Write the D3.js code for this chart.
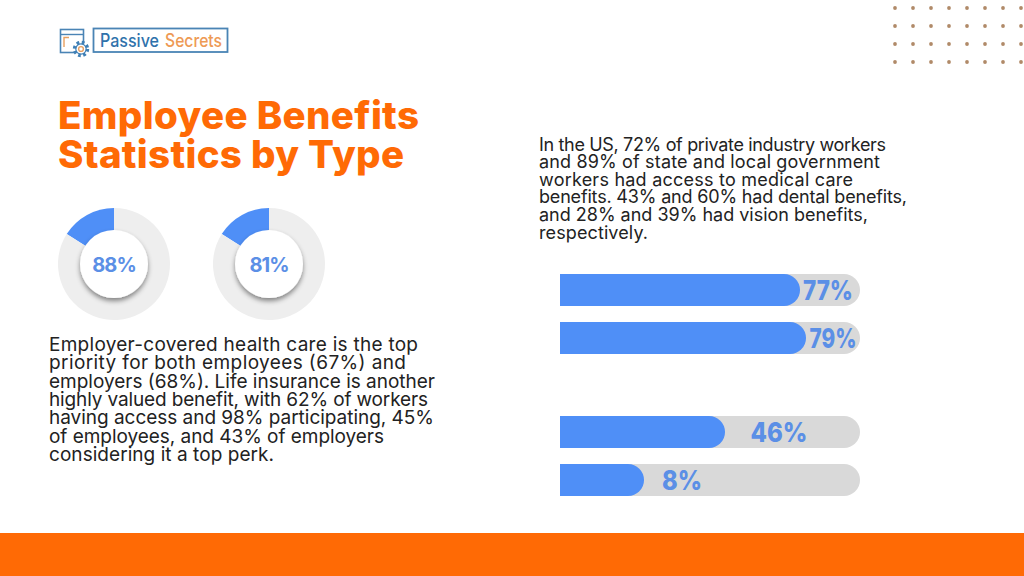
<!DOCTYPE html>
<html>
<head>
<meta charset="utf-8">
<script src="https://cdn.jsdelivr.net/npm/d3@7"></script>
<style>
    html, body { margin: 0; padding: 0; background: #fff; overflow: hidden; }
    text { font-family: "Inter", "Noto Sans", sans-serif; }
</style>
</head>
<body>
<div id="chart"></div>
<script>
// values
var donutLabels = ['88%', '81%'];
var donutWedge = [16, 16];      // the blue slice as drawn is not the printed number
var barLabels = ['77%', '79%', '46%', '8%'];
var barLengths = [80, 82, 55, 28];  // share of the track as drawn
var barGroups = [0, 0, 1, 1];
var barRows = [0, 1, 0, 1];
var barLabelCentres = [828, 833, 779, 682];
var barLabelWidths = [50, 47, 57, 40];

var titleLines = ['Employee Benefits', 'Statistics by Type'];
var titleEnds = [419, 404];
var leftLines = [
    'Employer-covered health care is the top',
    'priority for both employees (67%) and',
    'employers (68%). Life insurance is another',
    'highly valued benefit, with 62% of workers',
    'having access and 98% participating, 45%',
    'of employees, and 43% of employers',
    'considering it a top perk.'
];
var leftEnds = [418, 406, 435, 428, 434, 384, 274];
var rightLines = [
    'In the US, 72% of private industry workers',
    'and 89% of state and local government',
    'workers had access to medical care',
    'benefits. 43% and 60% had dental benefits,',
    'and 28% and 39% had vision benefits,',
    'respectively.'
];
var rightEnds = [886, 880, 853, 907, 868, 648];

var width = 1024, height = 576;
var orange = '#ff6a05', blue = '#4f8ff7', labelBlue = '#5b8fe6';

var svg = d3.select('#chart').append('svg')
    .attr('width', width)
    .attr('height', height)
    .style('display', 'block');

var shadow = svg.append('defs').append('filter')
    .attr('id', 'shadow')
    .attr('x', '-30%').attr('y', '-30%')
    .attr('width', '160%').attr('height', '160%');
shadow.append('feDropShadow')
    .attr('dx', 0).attr('dy', 3)
    .attr('stdDeviation', 2.5)
    .attr('flood-color', '#000')
    .attr('flood-opacity', 0.45);

// footer band
svg.append('rect')
    .attr('x', 0).attr('y', 533)
    .attr('width', width).attr('height', height - 533)
    .attr('fill', orange);

// dot grid, top right
var dotX = d3.range(8).map(function (i) { return 895 + i * 18; });
var dotY = d3.range(4).map(function (i) { return 8 + i * 18; });
dotY.forEach(function (y) {
    svg.append('g').selectAll('circle').data(dotX).join('circle')
        .attr('cx', function (x) { return x; })
        .attr('cy', y)
        .attr('r', 1.9)
        .attr('fill', '#b08a68');
});

drawLogo();

function fitLines(lines, ends, x, firstY, step, size, weight, colour) {
    svg.append('g').selectAll('text').data(lines).join('text')
        .attr('x', x)
        .attr('y', function (d, i) { return firstY + i * step; })
        .attr('font-size', size)
        .attr('font-weight', weight)
        .attr('fill', colour)
        .attr('textLength', function (d, i) { return ends[i] - x; })
        .attr('lengthAdjust', 'spacing')
        .text(function (d) { return d; });
}

fitLines(titleLines, titleEnds, 58, 129, 39, 38.5, 800, orange);
fitLines(leftLines, leftEnds, 49, 351, 18.35, 19, 400, '#222222');
fitLines(rightLines, rightEnds, 539, 150.5, 17.6, 18, 400, '#222222');

// donuts
var donutX = d3.scalePoint().domain(donutLabels).range([114, 269]);
var pie = d3.pie().sort(null).value(function (d) { return d; });
var arc = d3.arc().innerRadius(0).outerRadius(56);

donutLabels.forEach(function (label, i) {
    var g = svg.append('g')
        .attr('transform', 'translate(' + donutX(label) + ',264)');
    var slices = pie.startAngle(-donutWedge[i] / 100 * 2 * Math.PI)
        .endAngle(2 * Math.PI - donutWedge[i] / 100 * 2 * Math.PI)([donutWedge[i], 100 - donutWedge[i]]);
    g.selectAll('path').data(slices).join('path')
        .attr('d', arc)
        .attr('fill', function (d, j) { return j == 0 ? blue : '#eeeeee'; });
    g.append('circle')
        .attr('r', 34)
        .attr('fill', '#fff')
        .attr('filter', 'url(#shadow)');
    g.append('text')
        .attr('text-anchor', 'middle')
        .attr('y', 7.5)
        .attr('font-size', 20)
        .attr('font-weight', 700)
        .attr('letter-spacing', -0.9)
        .attr('fill', labelBlue)
        .text(label);
});

// bars
var x = d3.scaleLinear().domain([0, 100]).range([560, 860]);
var groupY = d3.scalePoint().domain([0, 1]).range([274, 416]);
var rowY = d3.scalePoint().domain([0, 1]).range([0, 48]);
var barH = 32;

function rightRounded(x0, x1, y, h) {
    var r = h / 2;
    var p = d3.path();
    p.moveTo(x0, y);
    p.lineTo(x1 - r, y);
    p.arc(x1 - r, y + r, r, -Math.PI / 2, Math.PI / 2);
    p.lineTo(x0, y + h);
    p.closePath();
    return p.toString();
}

var bars = svg.append('g').selectAll('g').data(barLabels).join('g');
function barTop(i) { return groupY(barGroups[i]) + rowY(barRows[i]); }

bars.append('path')
    .attr('d', function (d, i) { return rightRounded(x(0), x(100), barTop(i), barH); })
    .attr('fill', '#d9d9d9');
bars.append('path')
    .attr('d', function (d, i) { return rightRounded(x(0), x(barLengths[i]), barTop(i), barH); })
    .attr('fill', blue);
bars.append('text')
    .attr('x', function (d, i) { return barLabelCentres[i] - barLabelWidths[i] / 2; })
    .attr('y', function (d, i) { return barTop(i) + 26; })
    .attr('font-size', 27)
    .attr('font-weight', 800)
    .attr('fill', labelBlue)
    .attr('textLength', function (d, i) { return barLabelWidths[i]; })
    .attr('lengthAdjust', 'spacingAndGlyphs')
    .text(function (d) { return d; });

function drawLogo() {
    var logo = svg.append('g');
    var line = '#4a84b5';
    logo.append('rect')
        .attr('x', 60.5).attr('y', 29.5)
        .attr('width', 23).attr('height', 23)
        .attr('fill', 'none').attr('stroke', line).attr('stroke-width', 1.6);
    logo.append('line')
        .attr('x1', 60).attr('x2', 84).attr('y1', 34.5).attr('y2', 34.5)
        .attr('stroke', line).attr('stroke-width', 1.4);
    logo.append('path')
        .attr('d', 'M64 47V37.5H69')
        .attr('fill', 'none').attr('stroke', '#e8a060').attr('stroke-width', 1.4);
    logo.append('circle')
        .attr('cx', 81).attr('cy', 49).attr('r', 6.5)
        .attr('fill', '#fff')
        .attr('stroke', '#3f7fb5').attr('stroke-width', 3.4)
        .attr('stroke-dasharray', '2.6 2.5');
    logo.append('circle')
        .attr('cx', 81).attr('cy', 49).attr('r', 5.2)
        .attr('fill', 'none').attr('stroke', '#3f7fb5').attr('stroke-width', 1.2);
    logo.append('circle')
        .attr('cx', 81).attr('cy', 49).attr('r', 2.4)
        .attr('fill', 'none').attr('stroke', '#e8a060').attr('stroke-width', 1.4);
    logo.append('rect')
        .attr('x', 93.5).attr('y', 28.5)
        .attr('width', 134).attr('height', 23.5)
        .attr('fill', '#fff').attr('stroke', line).attr('stroke-width', 1.8);
    logo.append('text')
        .attr('x', 100).attr('y', 47)
        .attr('font-size', 18).attr('font-weight', 500)
        .attr('fill', '#2f72ab')
        .attr('textLength', 59)
        .attr('lengthAdjust', 'spacingAndGlyphs')
        .text('Passive');
    logo.append('text')
        .attr('x', 165).attr('y', 47)
        .attr('font-size', 18).attr('font-weight', 500)
        .attr('fill', '#ee9a55')
        .attr('textLength', 57)
        .attr('lengthAdjust', 'spacingAndGlyphs')
        .text('Secrets');
}
</script>
</body>
</html>
